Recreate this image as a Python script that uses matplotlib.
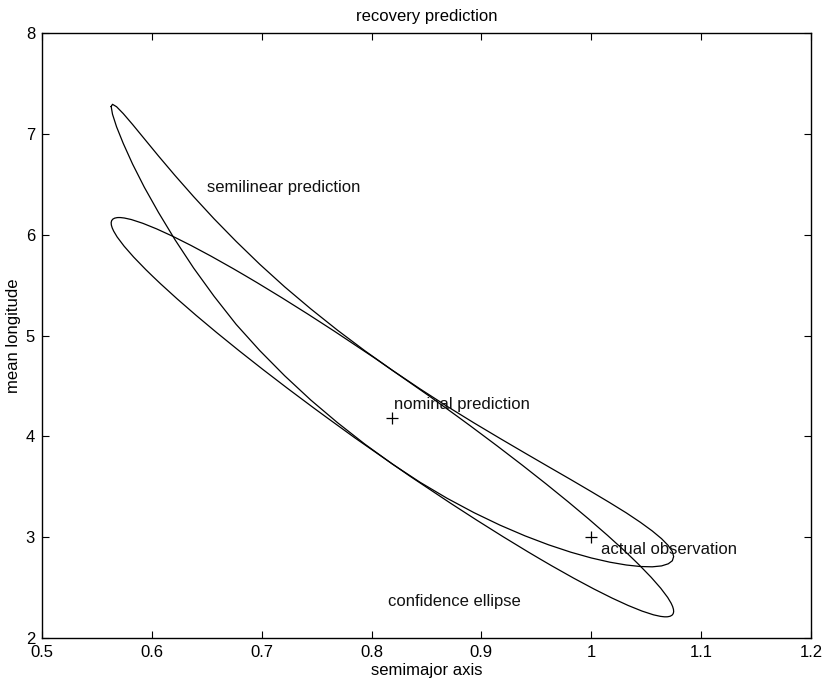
import numpy as np
import matplotlib
matplotlib.use("Agg")
import matplotlib.pyplot as plt
from matplotlib.patches import Ellipse

plt.rcParams['font.family'] = ['Liberation Sans', 'DejaVu Sans']

# ---- data ----
x_limits = [0.5, 1.2]
y_limits = [2, 8]
x_ticks = [0.5, 0.6, 0.7, 0.8, 0.9, 1.0, 1.1, 1.2]
x_tick_labels = ['0.5', '0.6', '0.7', '0.8', '0.9', '1', '1.1', '1.2']
y_ticks = [2, 3, 4, 5, 6, 7, 8]

# confidence ellipse: centre, standard deviations, correlation
ell_center = (0.819, 4.19)
ell_sx, ell_sy, ell_corr = 0.256, 1.98, -0.972

# semilinear prediction contour (closed curve)
semi_x = [0.563, 0.5642, 0.5679, 0.574, 0.5825, 0.5932, 0.6061, 0.6211, 0.638,
          0.6566, 0.6768, 0.6983, 0.721, 0.7447, 0.7691, 0.7939, 0.819, 0.8441,
          0.8689, 0.8933, 0.917, 0.9397, 0.9612, 0.9814, 1.0, 1.0169, 1.0319,
          1.0448, 1.0555, 1.064, 1.0701, 1.0738, 1.075, 1.0738, 1.0701, 1.064,
          1.0555, 1.0448, 1.0319, 1.0169, 1.0, 0.9814, 0.9612, 0.9397, 0.917,
          0.8933, 0.8689, 0.8441, 0.819, 0.7939, 0.7691, 0.7447, 0.721, 0.6983,
          0.6768, 0.6566, 0.638, 0.6211, 0.6061, 0.5932, 0.5825, 0.574, 0.5679,
          0.5642, 0.563]
semi_y = [7.271, 7.195, 7.07, 6.905, 6.70, 6.47, 6.22, 5.95, 5.67,
          5.39, 5.11, 4.85, 4.60, 4.36, 4.135, 3.923, 3.725, 3.545,
          3.385, 3.243, 3.119, 3.013, 2.924, 2.851, 2.794, 2.752, 2.724,
          2.709, 2.706, 2.715, 2.736, 2.766, 2.807, 2.858, 2.917, 2.985,
          3.062, 3.147, 3.241, 3.342, 3.452, 3.571, 3.698, 3.834, 3.979,
          4.133, 4.297, 4.471, 4.655, 4.849, 5.052, 5.264, 5.482, 5.706,
          5.933, 6.158, 6.378, 6.587, 6.78, 6.951, 7.093, 7.201, 7.269,
          7.293, 7.271]

nominal = (0.819, 4.18)
actual = (1.0, 3.0)

labels = ['semilinear prediction', 'nominal prediction', 'actual observation',
          'confidence ellipse']
label_x = [0.650, 0.820, 1.009, 0.815]
label_y = [6.47, 4.32, 2.876, 2.36]

# ---- figure ----
fig = plt.figure(figsize=(8.26, 6.85), dpi=100)
ax = fig.add_axes([0.0508, 0.0686, 0.931, 0.8832])

cov = np.array([[ell_sx**2, ell_corr*ell_sx*ell_sy],
                [ell_corr*ell_sx*ell_sy, ell_sy**2]])
vals, vecs = np.linalg.eigh(cov)
angle = np.degrees(np.arctan2(vecs[1, 1], vecs[0, 1]))
ax.add_patch(Ellipse(ell_center, 2*np.sqrt(vals[1]), 2*np.sqrt(vals[0]),
                     angle=angle, fill=False, edgecolor='black', lw=0.9))

ax.plot(semi_x, semi_y, color='black', lw=0.9)

ax.plot(*nominal, marker='+', color='black', ms=8, mew=0.9, ls='none')
ax.plot(*actual, marker='+', color='black', ms=8, mew=0.9, ls='none')

for s, lx, ly in zip(labels, label_x, label_y):
    ax.text(lx, ly, s, ha='left', va='center', fontsize=12, color='#111111')

ax.set_xlim(*x_limits)
ax.set_ylim(*y_limits)
ax.set_xticks(x_ticks)
ax.set_xticklabels(x_tick_labels)
ax.set_yticks(y_ticks)
ax.tick_params(direction='in', top=True, right=True, length=5, width=0.8,
               labelsize=12, colors='black')
ax.tick_params(axis='x', pad=5)
ax.tick_params(axis='y', pad=5)
for sp in ax.spines.values():
    sp.set_linewidth(1.0)

ax.set_title('recovery prediction', fontsize=12, pad=9)
ax.set_xlabel('semimajor axis', fontsize=12, labelpad=2)
ax.set_ylabel('mean longitude', fontsize=12, labelpad=3)

fig.savefig("out.png", dpi=100)
